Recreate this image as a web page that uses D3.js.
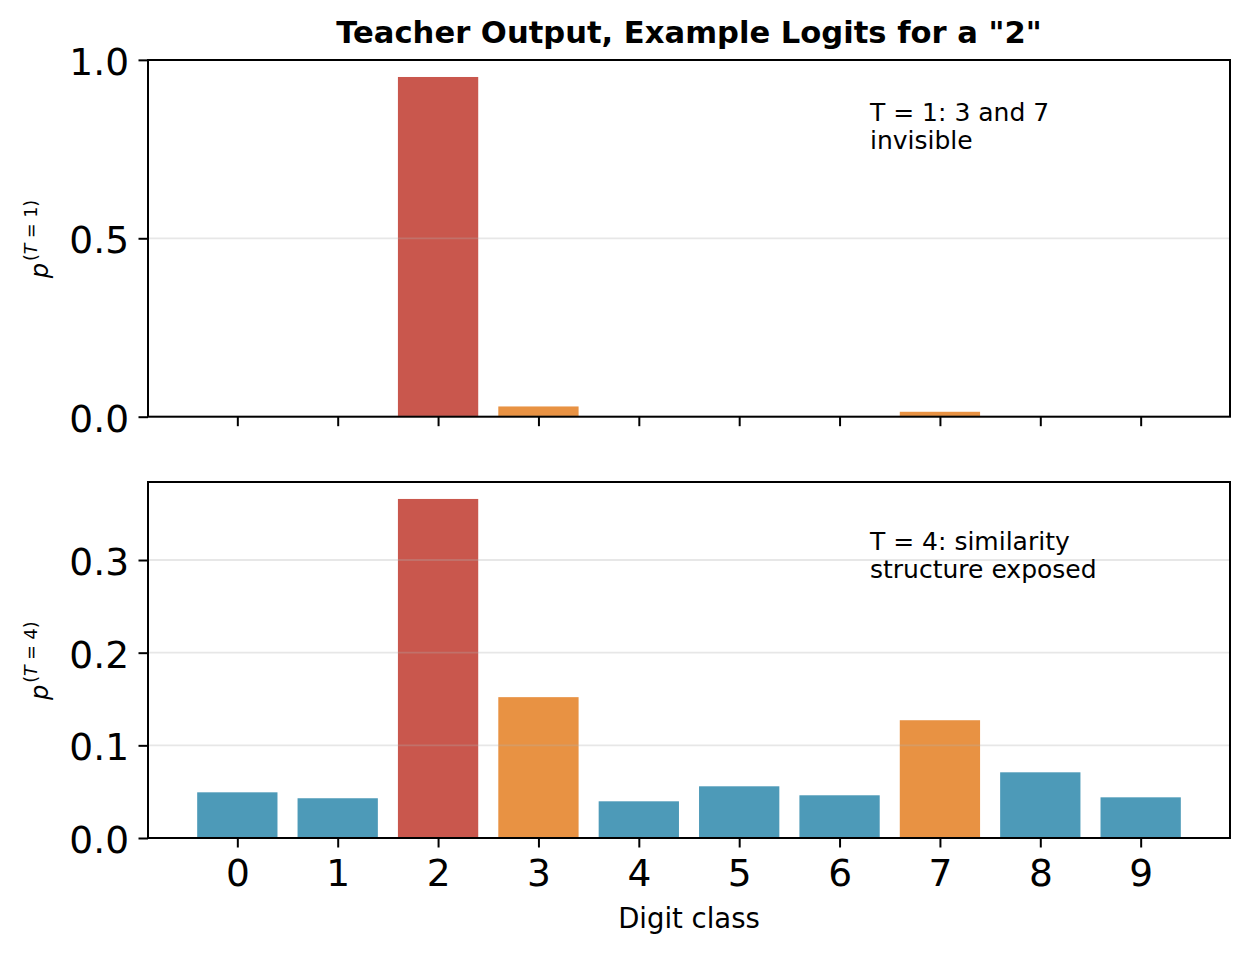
<!DOCTYPE html>
<html>
<head>
<meta charset="utf-8">
<script src="https://cdn.jsdelivr.net/npm/d3@7"></script>
<style>
  body { margin: 0; background: #fff; }
  svg { display: block; font-family: "DejaVu Sans", sans-serif; }
</style>
</head>
<body>
<div id="chart"></div>
<script>
// Digit classes and softmax outputs
const digits = [0, 1, 2, 3, 4, 5, 6, 7, 8, 9];
const probT1 = [0.0003, 0.0002, 0.952, 0.0287, 0.0001, 0.0005, 0.0003, 0.0138, 0.0013, 0.0002];
const probT4 = [0.0493, 0.0429, 0.3659, 0.152, 0.0396, 0.0558, 0.0461, 0.1271, 0.0709, 0.0439];
const ticksT1 = [0, 0.5, 1.0];
const ticksT4 = [0, 0.1, 0.2, 0.3];

const titleText = 'Teacher Output, Example Logits for a "2"';
const xLabelText = "Digit class";
const noteT1 = ["T = 1: 3 and 7", "invisible"];
const noteT4 = ["T = 4: similarity", "structure exposed"];

// colours: the true class, the look-alike classes, the rest
const trueColor = "#c9574d";
const similarColor = "#e89243";
const otherColor = "#4d9ab8";
const similarDigits = [3, 7];

function barColor(d) {
    if (d === 2) return trueColor;
    if (similarDigits.includes(d)) return similarColor;
    return otherColor;
}

const width = 1250;
const height = 955;
const left = 148, right = 1230;

const svg = d3.select("#chart")
    .append("svg")
    .attr("width", width)
    .attr("height", height);

// matplotlib style bar extent: bars are 0.8 wide plus 5% margin
const x = d3.scaleLinear()
    .domain([-0.4 - 0.49, 9.4 + 0.49])
    .range([left, right]);
const barWidth = x(0.8) - x(0);

function drawPanel(top, bottom, values, ticks, tField, note, noteOffset, showXLabels) {
    const y = d3.scaleLinear()
        .domain([0, d3.max(values) * 1.05])
        .range([bottom, top]);

    const g = svg.append("g");

    // bars
    g.selectAll("rect.bar")
        .data(digits)
        .enter()
        .append("rect")
        .attr("class", "bar")
        .attr("x", d => x(d) - barWidth / 2)
        .attr("width", barWidth)
        .attr("y", d => y(values[d]))
        .attr("height", d => y(0) - y(values[d]))
        .attr("fill", d => barColor(d));

    // grid sits on top of the bars, semi transparent
    g.selectAll("line.grid")
        .data(ticks)
        .enter()
        .append("line")
        .attr("x1", left)
        .attr("x2", right)
        .attr("y1", d => y(d))
        .attr("y2", d => y(d))
        .attr("stroke", "#b0b0b0")
        .attr("stroke-opacity", 0.3)
        .attr("stroke-width", 1.8);

    // y axis
    const yAxis = g.append("g")
        .attr("transform", `translate(${left},0)`)
        .call(d3.axisLeft(y).tickValues(ticks).tickFormat(d3.format(".1f"))
            .tickSize(9.5).tickPadding(9.5));
    yAxis.select(".domain").remove();
    yAxis.selectAll(".tick line").attr("stroke", "#000").attr("stroke-width", 2);
    yAxis.selectAll(".tick text")
        .attr("font-size", 37.5)
        .attr("font-family", "DejaVu Sans")
        .attr("fill", "#000")
        .attr("dy", "0.39em");

    // x axis
    const xAxis = g.append("g")
        .attr("transform", `translate(0,${bottom})`)
        .call(d3.axisBottom(x).tickValues(digits).tickFormat(showXLabels ? d3.format("d") : "")
            .tickSize(9.5).tickPadding(12));
    xAxis.select(".domain").remove();
    xAxis.selectAll(".tick line").attr("stroke", "#000").attr("stroke-width", 2);
    xAxis.selectAll(".tick text")
        .attr("font-size", 37.5)
        .attr("font-family", "DejaVu Sans")
        .attr("fill", "#000");

    // spines
    g.append("rect")
        .attr("x", left)
        .attr("y", top)
        .attr("width", right - left)
        .attr("height", bottom - top)
        .attr("fill", "none")
        .attr("stroke", "#000")
        .attr("stroke-width", 2);

    // annotation
    const noteText = g.append("text")
        .attr("x", 870)
        .attr("y", top + noteOffset)
        .attr("font-size", 25)
        .attr("fill", "#000");
    note.forEach((line, i) => {
        noteText.append("tspan")
            .attr("x", 870)
            .attr("dy", i === 0 ? 0 : 27.8)
            .text(line);
    });

    // y label: p^(T = n)
    const cy = (top + bottom) / 2;
    const yl = g.append("text")
        .attr("transform", `translate(48,${cy + 40}) rotate(-90)`)
        .attr("font-size", 24)
        .attr("fill", "#000");
    yl.append("tspan").attr("font-style", "italic").text("p");
    const sup = yl.append("tspan").attr("font-size", 17.5).attr("dy", -11).attr("dx", 2);
    sup.append("tspan").text("(");
    sup.append("tspan").attr("font-style", "italic").text("T");
    sup.append("tspan").text(" = " + tField + ")");

    return y;
}

drawPanel(60, 416.7, probT1, ticksT1, 1, noteT1, 60.7, false);
drawPanel(482, 838, probT4, ticksT4, 4, noteT4, 68, true);

// title and x label
svg.append("text")
    .attr("x", (left + right) / 2)
    .attr("y", 42.7)
    .attr("text-anchor", "middle")
    .attr("font-size", 30.6)
    .attr("font-weight", "bold")
    .attr("fill", "#000")
    .text(titleText);

svg.append("text")
    .attr("x", (left + right) / 2)
    .attr("y", 928.3)
    .attr("text-anchor", "middle")
    .attr("font-size", 27.5)
    .attr("fill", "#000")
    .text(xLabelText);
</script>
</body>
</html>
